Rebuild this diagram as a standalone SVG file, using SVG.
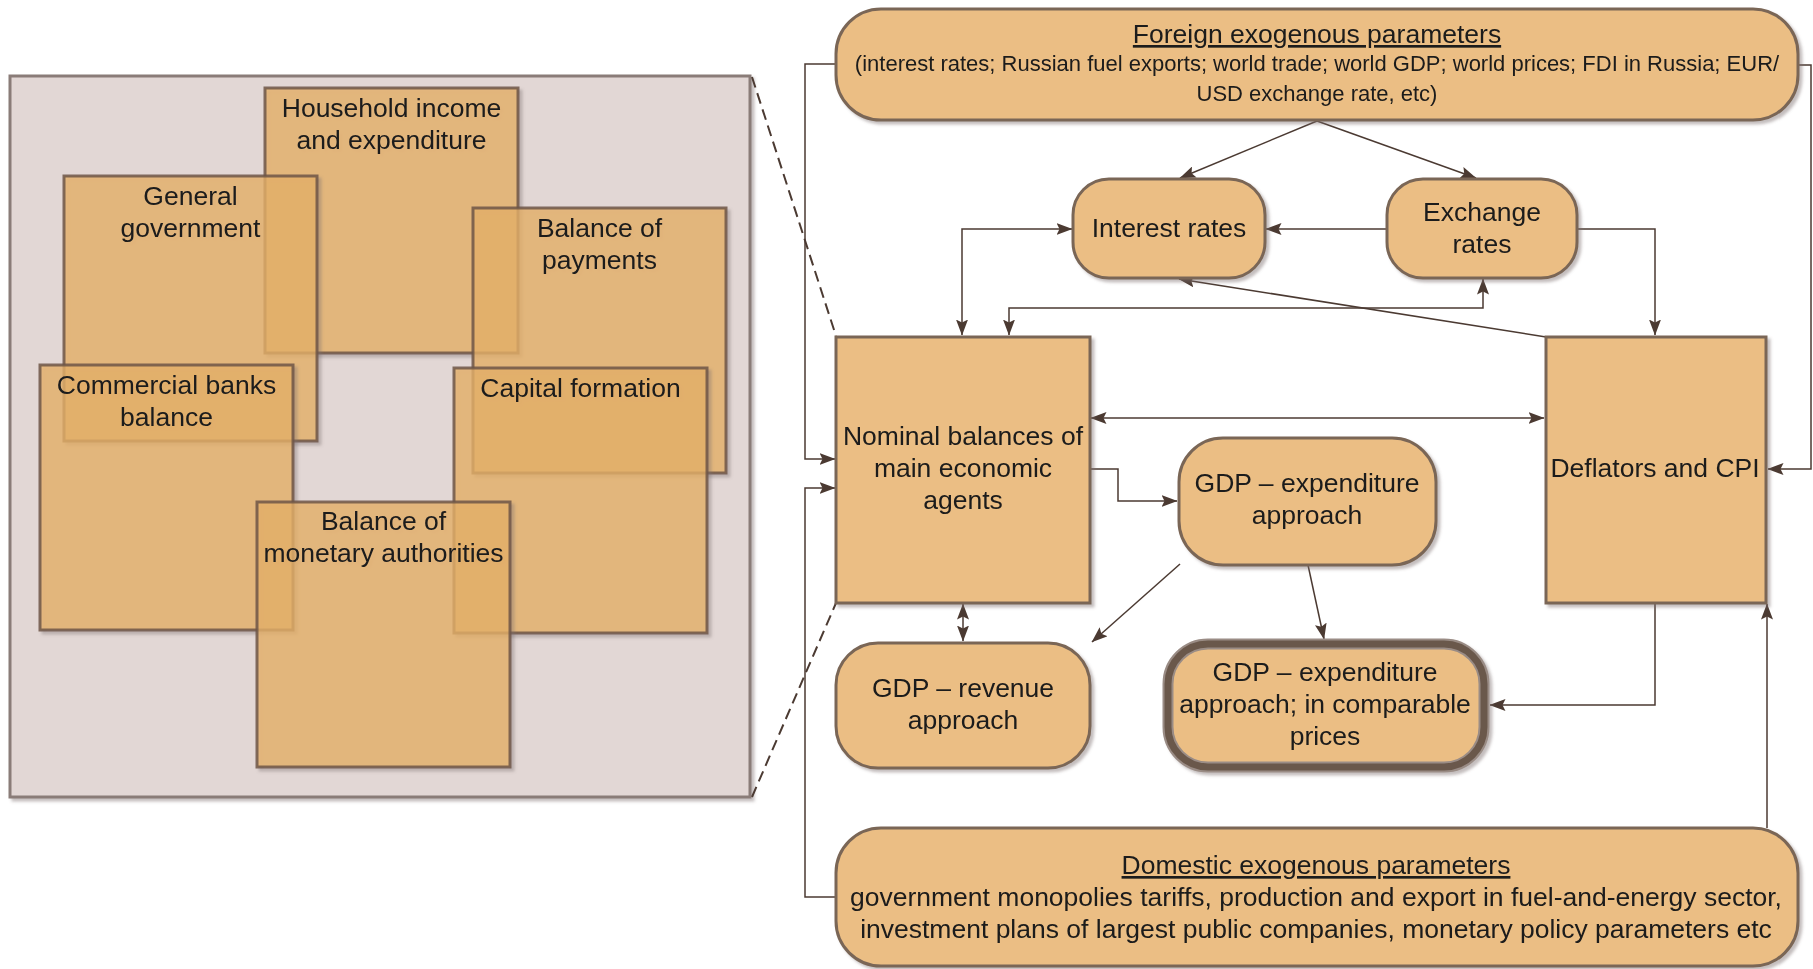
<svg xmlns="http://www.w3.org/2000/svg" width="1813" height="969" viewBox="0 0 1813 969">
<defs>
<style>
.t{font-family:"Liberation Sans",Arial,sans-serif;font-size:26.5px;fill:#1a1a1a;text-anchor:middle}
.ts{font-family:"Liberation Sans",Arial,sans-serif;font-size:22px;fill:#1a1a1a;text-anchor:middle}
.u{text-decoration:underline}
.node{fill:#ebbe84;stroke:#7a6656;stroke-width:3}
.sub{fill:#ecb466;fill-opacity:0.72;stroke:#6e5646;stroke-width:3;stroke-opacity:0.85}
.c{fill:none;stroke:#4b3a32;stroke-width:1.5}
.d{fill:none;stroke:#4b3a32;stroke-width:2;stroke-dasharray:11,6}
</style>
<filter id="sh" x="-10%" y="-10%" width="125%" height="125%">
<feDropShadow dx="3" dy="3" stdDeviation="1.5" flood-color="#7a7070" flood-opacity="0.45"/>
</filter>
<marker id="ah" viewBox="0 0 16 12" refX="15.5" refY="6" markerWidth="16" markerHeight="12" markerUnits="userSpaceOnUse" orient="auto-start-reverse">
<path d="M0,0 L16,6 L0,12 L3,6 z" fill="#4b3a32"/>
</marker>
</defs>
<rect width="1813" height="969" fill="#ffffff"/>

<g id="panel">
<rect x="10" y="76" width="740" height="721" fill="#e2d7d5" stroke="#8a7c78" stroke-width="3" filter="url(#sh)"/>
</g>
<g id="household" filter="url(#sh)">
<rect class="sub" x="265" y="88" width="253" height="265"/>
<text class="t" x="391.5" y="117">Household income</text>
<text class="t" x="391.5" y="149">and expenditure</text>
</g>
<g id="general-government" filter="url(#sh)">
<rect class="sub" x="64" y="176" width="253" height="265"/>
<text class="t" x="190.5" y="205">General</text>
<text class="t" x="190.5" y="237">government</text>
</g>
<g id="balance-of-payments" filter="url(#sh)">
<rect class="sub" x="473" y="208" width="253" height="265"/>
<text class="t" x="599.5" y="237">Balance of</text>
<text class="t" x="599.5" y="269">payments</text>
</g>
<g id="commercial-banks" filter="url(#sh)">
<rect class="sub" x="40" y="365" width="253" height="265"/>
<text class="t" x="166.5" y="394">Commercial banks</text>
<text class="t" x="166.5" y="426">balance</text>
</g>
<g id="capital-formation" filter="url(#sh)">
<rect class="sub" x="454" y="368" width="253" height="265"/>
<text class="t" x="580.5" y="397">Capital formation</text>
</g>
<g id="monetary-authorities" filter="url(#sh)">
<rect class="sub" x="257" y="502" width="253" height="265"/>
<text class="t" x="383.5" y="530">Balance of</text>
<text class="t" x="383.5" y="562">monetary authorities</text>
</g>

<g id="connectors">
<path class="d" d="M752,77 L836,336"/>
<path class="d" d="M752,797 L836,603"/>
<path class="c" d="M1317,121 L1180,178" marker-end="url(#ah)"/>
<path class="c" d="M1317,121 L1476,178" marker-end="url(#ah)"/>
<path class="c" d="M1386,229 L1266,229" marker-end="url(#ah)"/>
<path class="c" d="M962,335 L962,229 L1072,229" marker-start="url(#ah)" marker-end="url(#ah)"/>
<path class="c" d="M1483,279 L1483,308 L1009,308 L1009,335" marker-start="url(#ah)" marker-end="url(#ah)"/>
<path class="c" d="M1576,229 L1655,229 L1655,335" marker-end="url(#ah)"/>
<path class="c" d="M1546,337 L1179,279" marker-end="url(#ah)"/>
<path class="c" d="M1091,418 L1544,418" marker-start="url(#ah)" marker-end="url(#ah)"/>
<path class="c" d="M1091,469 L1118,469 L1118,501 L1177,501" marker-end="url(#ah)"/>
<path class="c" d="M1180,564 L1092,642" marker-end="url(#ah)"/>
<path class="c" d="M1308,565 L1324,639" marker-end="url(#ah)"/>
<path class="c" d="M963,604 L963,641" marker-start="url(#ah)" marker-end="url(#ah)"/>
<path class="c" d="M1655,603 L1655,705 L1490,705" marker-end="url(#ah)"/>
<path class="c" d="M1798,65 L1811,65 L1811,469 L1768,469" marker-end="url(#ah)"/>
<path class="c" d="M836,64 L805,64 L805,459 L835,459" marker-end="url(#ah)"/>
<path class="c" d="M836,897 L805,897 L805,488 L835,488" marker-end="url(#ah)"/>
<path class="c" d="M1767,828 L1767,604" marker-end="url(#ah)"/>
</g>

<g id="foreign" filter="url(#sh)">
<rect class="node" x="836" y="9" width="962" height="111" rx="45" ry="45"/>
<text class="t u" x="1317" y="43">Foreign exogenous parameters</text>
<text class="ts" x="1317" y="71">(interest rates; Russian fuel exports; world trade; world GDP; world prices; FDI in Russia; EUR/</text>
<text class="ts" x="1317" y="101">USD exchange rate, etc)</text>
</g>
<g id="interest-rates" filter="url(#sh)">
<rect class="node" x="1073" y="179" width="192" height="99" rx="36" ry="36"/>
<text class="t" x="1169" y="237">Interest rates</text>
</g>
<g id="exchange-rates" filter="url(#sh)">
<rect class="node" x="1387" y="179" width="190" height="99" rx="36" ry="36"/>
<text class="t" x="1482" y="221">Exchange</text>
<text class="t" x="1482" y="253">rates</text>
</g>
<g id="nominal-balances" filter="url(#sh)">
<rect class="node" x="836" y="337" width="254" height="266"/>
<text class="t" x="963" y="445">Nominal balances of</text>
<text class="t" x="963" y="477">main economic</text>
<text class="t" x="963" y="509">agents</text>
</g>
<g id="deflators" filter="url(#sh)">
<rect class="node" x="1546" y="337" width="220" height="266"/>
<text class="t" x="1655" y="477">Deflators and CPI</text>
</g>
<g id="gdp-expenditure" filter="url(#sh)">
<rect class="node" x="1179" y="438" width="257" height="127" rx="44" ry="44"/>
<text class="t" x="1307" y="492">GDP – expenditure</text>
<text class="t" x="1307" y="524">approach</text>
</g>
<g id="gdp-revenue" filter="url(#sh)">
<rect class="node" x="836" y="643" width="254" height="125" rx="42" ry="42"/>
<text class="t" x="963" y="697">GDP – revenue</text>
<text class="t" x="963" y="729">approach</text>
</g>
<g id="gdp-comparable" filter="url(#sh)">
<rect x="1168" y="644" width="316" height="123" rx="40" ry="40" fill="#ebbe84" stroke="#9a8c85" stroke-width="11"/>
<rect x="1168" y="644" width="316" height="123" rx="40" ry="40" fill="none" stroke="#6a584c" stroke-width="7"/>
<text class="t" x="1325" y="681">GDP – expenditure</text>
<text class="t" x="1325" y="713">approach; in comparable</text>
<text class="t" x="1325" y="745">prices</text>
</g>
<g id="domestic" filter="url(#sh)">
<rect class="node" x="836" y="828" width="962" height="138" rx="45" ry="45"/>
<text class="t u" x="1316" y="874">Domestic exogenous parameters</text>
<text class="t" x="1316" y="906">government monopolies tariffs, production and export in fuel-and-energy sector,</text>
<text class="t" x="1316" y="938">investment plans of largest public companies, monetary policy parameters etc</text>
</g>
</svg>
